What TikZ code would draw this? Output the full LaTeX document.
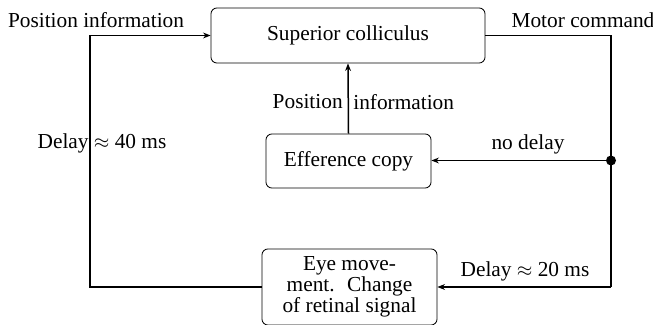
\documentclass[tikz,border=0pt]{standalone}
\usepackage{fontspec}
\setmainfont{Liberation Serif}
\usetikzlibrary{arrows.meta}
\begin{document}
\begin{tikzpicture}[x=0.6pt,y=-0.6pt,
  blk/.style={draw,rounded corners=3.5pt,line width=0.5pt,align=center,inner sep=0pt},
  conn/.style={line width=0.9pt},
  arr/.style={conn,-{Stealth[length=4.5pt,width=3.5pt]}},
  lbl/.style={inner sep=0pt},
  every node/.style={font=\fontsize{12.8pt}{11.4pt}\selectfont}]
\useasboundingbox (0,0) rectangle (653,325);
\node[blk,minimum width=164.4pt,minimum height=33pt] (sc) at (348,35.5) {Superior colliculus};
\node[blk,minimum width=99pt,minimum height=32.4pt] (ec) at (348.5,161) {Efference copy};
\node[blk,minimum width=105pt,minimum height=45.6pt] (eye) at (349.5,287) {Eye move-\\ment.~ Change\\of retinal signal};
\coordinate (tr) at (611,35.5);
\coordinate (br) at (611,287);
\coordinate (tl) at (90,35.5);
\coordinate (bl) at (90,287);
\coordinate (dot) at (611,160.5);
\draw[conn] (sc.east) -- (tr) -- (br);
\draw[arr] (br) -- (eye.east);
\draw[arr] (dot) -- (dot -| ec.east);
\fill (dot) circle (3pt);
\draw[arr] (ec.north) -- (sc.south);
\draw[conn] (eye.west) -- (bl) -- (tl);
\draw[arr] (tl) -- (sc.west);
\node[lbl] (pi1) at (96,20) {Position information};
\node[lbl] (mc) at (583,20) {Motor command};
\node[lbl,anchor=east] (pi2) at (343,102) {Position};
\node[lbl,anchor=west] (pi3) at (353,102) {information};
\node[lbl] (nd) at (528,144) {no delay};
\node[lbl] (d20) at (525,271) {Delay $\approx$ 20 ms};
\node[lbl] (d40) at (102,143) {Delay $\approx$ 40 ms};
\end{tikzpicture}
\end{document}
